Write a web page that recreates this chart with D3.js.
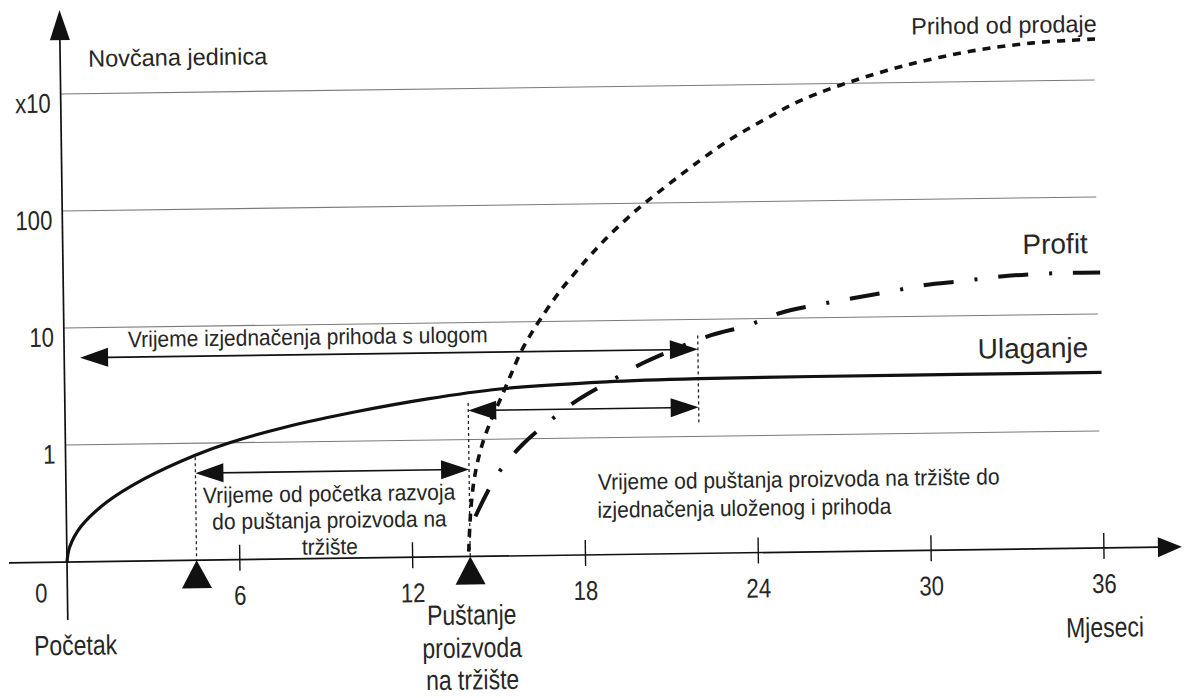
<!DOCTYPE html>
<html lang="hr">
<head>
<meta charset="UTF-8">
<title>Ulaganje, prihod od prodaje i profit</title>
<script src="https://d3js.org/d3.v7.min.js"></script>
<style>
  body { margin: 0; background: #fff; }
  svg { display: block; background: #fff; }
  text { font-family: "Liberation Sans", Arial, sans-serif; fill: #262626; }
  .grid { stroke: #7a7a7a; stroke-width: 1.1px; }
  .axis { stroke: #111; stroke-width: 1.7px; fill: none; }
  .tick { stroke: #111; stroke-width: 1.4px; }
  .guide { stroke: #222; stroke-width: 1.3px; stroke-dasharray: 3,3; }
  .span { stroke: #111; stroke-width: 1.6px; }
  .head { fill: #111; }
</style>
</head>
<body>
<svg width="1184" height="698"></svg>
<script>
// osi
const xTicks = [6, 12, 18, 24, 30, 36];
const yTicks = [1, 10, 100, 1000];
const yTickLabels = ["1", "10", "100", "x10"];

// Ulaganje (mjeseci, novčana jedinica)
const ulaganjeT = [0, 0.1, 0.5, 1.4, 2.7, 4.5, 5.7, 7.7, 10.1, 12.6, 15.1, 18.8, 22, 26, 31, 36];
const ulaganjeV = [0.1, 0.134, 0.2, 0.32, 0.5, 0.79, 1.0, 1.35, 1.78, 2.25, 2.68, 3.0, 3.12, 3.15, 3.16, 3.16];

// Prihod od prodaje
const prihodT = [13.95, 14.05, 14.21, 14.46, 14.8, 15.1, 15.5, 15.85, 16.2, 16.55, 17.25, 18.2, 18.9, 19.6, 20.15, 20.7, 22.17, 23.33, 24.5, 25.6, 27.07, 29.16, 31.49, 33.79, 36.0];
const prihodV = [0.11, 0.265, 0.51, 0.89, 1.48, 2.14, 3.55, 5.5, 7.76, 10.5, 18.2, 33.9, 51.3, 74.1, 96.6, 123, 229, 355, 513, 708, 966, 1365, 1800, 2109, 2239];

// Profit
const profitT = [14.2, 14.97, 15.85, 16.87, 17.85, 19.01, 20.09, 22.47, 23.69, 24.88, 26.16, 28.63, 29.92, 31.21, 32.43, 33.71, 34.96, 36.0];
const profitV = [0.22, 0.494, 0.885, 1.44, 2.15, 3.1, 4.3, 7.3, 8.67, 11.1, 12.9, 16.3, 18.5, 19.8, 21.3, 22.3, 22.6, 22.6];

// oznake vremena: početak razvoja, puštanje na tržište, izjednačenje
const markerT = [4.5, 14];
const guideT = [4.5, 14, 22];
const guideTop = [0.76, 2.05, 7.3];
const guideBottom = [0.1, 0.1, 1.32];
const spanFrom = [0.55, 14, 4.5];
const spanTo = [22, 22, 14];
const spanV = [5.55, 1.77, 0.555];

const svg = d3.select("svg");

const x = d3.scaleLinear().domain([0, 36]).range([67, 1104]);
const y = d3.scaleLog().domain([0.1, 1000]).range([562, 94]);
const x0 = x(0), y0 = y(0.1);

// skenirana slika je malo zakrenuta
const g = svg.append("g").attr("transform", `rotate(-0.78, ${x0}, ${y0})`);

function label(px, py, str, size, anchor, sx) {
    g.append("text")
        .attr("transform", `translate(${px},${py}) scale(${sx || 1},1)`)
        .attr("text-anchor", anchor)
        .style("font-size", size + "px")
        .text(str);
}

function head(tx, ty, dir, len, hw) {
    let p;
    if (dir === "left") p = [[tx, ty], [tx + len, ty - hw], [tx + len, ty + hw]];
    else if (dir === "right") p = [[tx, ty], [tx - len, ty - hw], [tx - len, ty + hw]];
    else p = [[tx, ty], [tx - hw, ty + len], [tx + hw, ty + len]];
    g.append("path").attr("class", "head").attr("d", "M" + p.join("L") + "Z");
}

// mreža
g.append("g").selectAll("line")
    .data(yTicks)
    .enter().append("line")
    .attr("class", "grid")
    .attr("x1", x0).attr("x2", x(35.9))
    .attr("y1", d => y(d)).attr("y2", d => y(d));

yTicks.forEach((v, i) => label(57, y(v) + 18.5, yTickLabels[i], 27, "end", 0.82));
label(47, 602, "0", 27, "end", 0.82);

// osi
g.append("line").attr("class", "axis").attr("x1", 9).attr("x2", 1160).attr("y1", y0).attr("y2", y0);
head(1182, y0, "right", 24, 10);
g.append("line").attr("class", "axis").attr("x1", x0).attr("x2", x0).attr("y1", 620).attr("y2", 38);
head(x0, 10, "up", 30, 10);

g.append("g").selectAll("line")
    .data(xTicks)
    .enter().append("line")
    .attr("class", "tick")
    .attr("x1", d => x(d)).attr("x2", d => x(d))
    .attr("y1", y0 - 15).attr("y2", y0 + 11);
xTicks.forEach(t => label(x(t), 607, String(t), 27, "middle", 0.82));

// trokuti na osi
g.append("g").selectAll("path")
    .data(markerT)
    .enter().append("path")
    .attr("class", "head")
    .attr("d", d => `M${x(d)},${y0}L${x(d) - 15},${y0 + 28}L${x(d) + 15},${y0 + 28}Z`);

// točkaste okomice
g.append("g").selectAll("line")
    .data(guideT)
    .enter().append("line")
    .attr("class", "guide")
    .attr("x1", d => x(d)).attr("x2", d => x(d))
    .attr("y1", (d, i) => y(guideTop[i])).attr("y2", (d, i) => y(guideBottom[i]));

// krivulje
const line = d3.line().x(d => x(d[0])).y(d => y(d[1])).curve(d3.curveCatmullRom.alpha(0.5));

g.append("path").datum(d3.zip(ulaganjeT, ulaganjeV))
    .attr("d", line).attr("fill", "none")
    .attr("stroke", "#111").attr("stroke-width", 3.2);

g.append("path").datum(d3.zip(prihodT, prihodV))
    .attr("d", line).attr("fill", "none")
    .attr("stroke", "#111").attr("stroke-width", 3.6)
    .attr("stroke-dasharray", "8,7");

g.append("path").datum(d3.zip(profitT, profitV))
    .attr("d", line).attr("fill", "none")
    .attr("stroke", "#111").attr("stroke-width", 4)
    .attr("stroke-dasharray", "30,21,3,21");

// dvostrane strelice
spanFrom.forEach((t, i) => {
    const ax = x(t), bx = x(spanTo[i]), sy = y(spanV[i]);
    g.append("line").attr("class", "span")
        .attr("x1", ax + 10).attr("x2", bx - 10).attr("y1", sy).attr("y2", sy);
    head(ax, sy, "left", 28, 9.5);
    head(bx, sy, "right", 28, 9.5);
});

// natpisi
label(95, 67, "Novčana jedinica", 23.5, "start");
label(1104, 46, "Prihod od prodaje", 23.5, "end");
label(1092, 267, "Profit", 28, "end");
label(1091, 371, "Ulaganje", 28, "end");

const NOTE = 22.5, NOTE_SX = 0.933;
label(131, 348, "Vrijeme izjednačenja prihoda s ulogom", NOTE, "start", NOTE_SX);
label(330, 505, "Vrijeme od početka razvoja", NOTE, "middle", NOTE_SX);
label(330, 531.5, "do puštanja proizvoda na", NOTE, "middle", NOTE_SX);
label(330, 558, "tržište", NOTE, "middle", NOTE_SX);
label(599, 497, "Vrijeme od puštanja proizvoda na tržište do", NOTE, "start", NOTE_SX);
label(598, 525, "izjednačenja uloženog i prihoda", NOTE, "start", NOTE_SX);

label(33, 655, "Početak", 28, "start", 0.82);
label(x(36), 651, "Mjeseci", 28, "middle", 0.82);
label(471, 630, "Puštanje", 28, "middle", 0.82);
label(471, 663, "proizvoda", 28, "middle", 0.82);
label(471, 695, "na tržište", 28, "middle", 0.82);
</script>
</body>
</html>
